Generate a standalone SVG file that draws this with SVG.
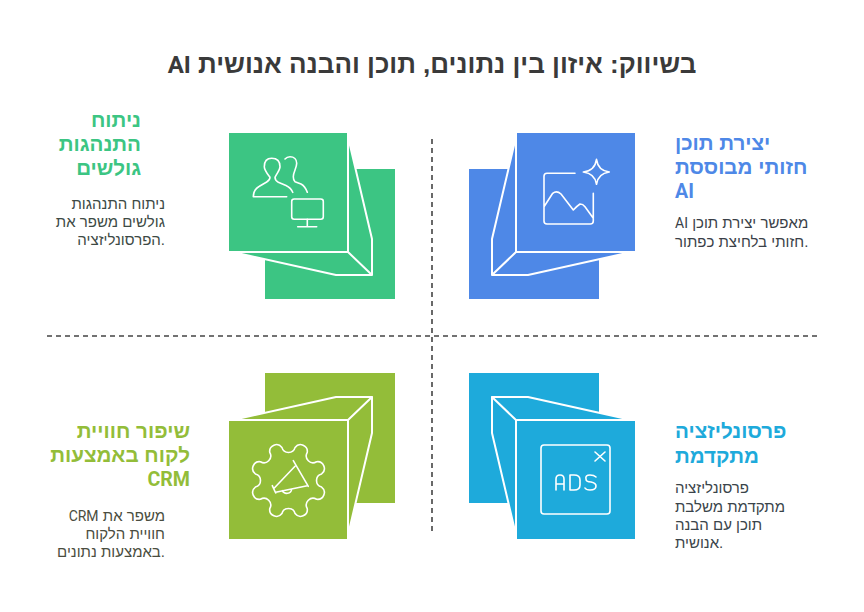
<svg xmlns="http://www.w3.org/2000/svg" width="864" height="612" viewBox="0 0 864 612">
<style>
text{font-family:"Liberation Sans",Roboto,sans-serif;direction:ltr}
.r{font-family:Roboto,sans-serif}
.t{font-size:26px;font-weight:700;fill:#3a3a3a}
.t .r{font-size:24px}
.h{font-size:20.6px;font-weight:700}
.h .r{font-size:19.6px}
.b{font-size:15px}
.b .r{font-size:14px}
.e{text-anchor:end}
.l{fill:none;stroke:#fff;stroke-width:2;stroke-linecap:round;stroke-linejoin:round}
.i{fill:none;stroke:#fff;stroke-width:1.6;stroke-linecap:round;stroke-linejoin:round}
.d{fill:none;stroke:#444;stroke-width:1.6;stroke-dasharray:5 4}
</style>
<rect width="864" height="612" fill="#fff"/>
<text id="title" class="t" x="432" y="73" text-anchor="middle"><tspan class="r">AI</tspan> בשיווק: איזון בין נתונים, תוכן והבנה אנושית</text>
<g id="connectors">
<path class="d" d="M432 139V535"/>
<path class="d" d="M47 336H817"/>
</g>
<g id="node-browsing">
<rect x="265" y="169" width="130" height="130" fill="#3CC583"/>
<path d="M349 141L372 239V275L336 275L237 253H229V133H347Z" fill="#3CC583"/>
<path class="l" d="M349 141L372 239V275H336L237 253M229 252H348V133M348 252L372 275"/>
<path class="i" d="M286.7 196.7H253.3Q253.5 189.5 259 186.5L266.7 182Q270 180 270 177.3C266 172 264.3 170 264.3 166.7C264.3 161 267 158.3 271.7 158.3C277 158.3 280 161.5 280 166.7C280 170 277 173 275 177.3Q275 180.5 278.3 182.3L286 185.5Q291 188 292.7 192.3M285 159Q287 156.7 290 156.7C294 156.7 296.7 159.5 296.7 163.3C296.7 168 293.3 172 293.3 176.7Q293.3 180 295 181.7L301 184Q305 186 307.3 192.3"/>
<rect class="i" x="291.7" y="199" width="31.6" height="20.3" rx="2.5"/>
<path class="i" d="M307.3 219.3V226.7M297.7 226.7H316.7"/>
<text class="h e" fill="#3CC583"><tspan x="141" y="127">ניתוח</tspan><tspan x="141" y="151">התנהגות</tspan><tspan x="141" y="175">גולשים</tspan></text>
<text class="b e" fill="#3d4a45"><tspan x="165" y="209">ניתוח התנהגות</tspan><tspan x="165" y="227">גולשים משפר את</tspan><tspan x="165" y="245">הפרסונליזציה.</tspan></text>
</g>
<g id="node-ai">
<rect x="469" y="169" width="130" height="130" fill="#4E88E7"/>
<path d="M515 141L492 239V275L528 275L627 253H635V133H517Z" fill="#4E88E7"/>
<path class="l" d="M515 141L492 239V275H528L627 253M635 252H516V133M516 252L492 275"/>
<path class="i" d="M575 173.3H547Q544 173.3 544 176.3V221Q544 224 547 224H590.3Q593.3 224 593.3 221V193.3M544 206.7L552.7 193.3Q556.7 190 561 194L573.3 210Q577 206 580 204Q583 204 585 206.7L593.3 218.3"/>
<path class="i" d="M596.5 159.3Q598 170.5 609.3 172Q598 173.5 596.5 184.3Q595 173.5 583.3 172Q595 170.5 596.5 159.3Z"/>
<text class="h" fill="#4E88E7"><tspan x="675" y="150">יצירת תוכן</tspan><tspan x="675" y="174">חזותי מבוססת</tspan><tspan x="675" y="198" class="r">AI</tspan></text>
<text class="b" fill="#3a3f48"><tspan x="675" y="228"><tspan class="r">AI</tspan> מאפשר יצירת תוכן</tspan><tspan x="675" y="247">חזותי בלחיצת כפתור.</tspan></text>
</g>
<g id="node-crm">
<rect x="265" y="373" width="130" height="130" fill="#93BD39"/>
<path d="M349 531L372 433V397L336 397L237 419H229V539H347Z" fill="#93BD39"/>
<path class="l" d="M349 531L372 433V397H336L237 419M229 420H348V539M348 420L372 397"/>
<path class="i" transform="translate(288.5 480.5)" d="M6.58 -33.1A6.8 6.8 0 0 1 18.75 -28.06A6.8 6.8 0 0 0 28.06 -18.75A6.8 6.8 0 0 1 33.1 -6.58A6.8 6.8 0 0 0 33.1 6.58A6.8 6.8 0 0 1 28.06 18.75A6.8 6.8 0 0 0 18.75 28.06A6.8 6.8 0 0 1 6.58 33.1A6.8 6.8 0 0 0 -6.58 33.1A6.8 6.8 0 0 1 -18.75 28.06A6.8 6.8 0 0 0 -28.06 18.75A6.8 6.8 0 0 1 -33.1 6.58A6.8 6.8 0 0 0 -33.1 -6.58A6.8 6.8 0 0 1 -28.06 -18.75A6.8 6.8 0 0 0 -18.75 -28.06A6.8 6.8 0 0 1 -6.58 -33.1A6.8 6.8 0 0 0 6.58 -33.1Z"/>
<path class="i" d="M293.3 460.7L308.3 486.3M272.3 485.7L275.7 493M274.3 488L295 466.3M275.7 492.3L307.3 485.7M282.3 490.7A5 5 0 0 0 291.7 489"/>
<text class="h e" fill="#93BD39"><tspan x="190" y="438">שיפור חוויית</tspan><tspan x="190" y="462">לקוח באמצעות</tspan><tspan x="190" y="486" class="r">CRM</tspan></text>
<text class="b e" fill="#4a4d40"><tspan x="165" y="521"><tspan class="r">CRM</tspan> משפר את</tspan><tspan x="165" y="539">חוויית הלקוח</tspan><tspan x="165" y="557">באמצעות נתונים.</tspan></text>
</g>
<g id="node-personal">
<rect x="469" y="373" width="130" height="130" fill="#1EAADB"/>
<path d="M515 531L492 433V397L528 397L627 419H635V539H517Z" fill="#1EAADB"/>
<path class="l" d="M515 531L492 433V397H528L627 419M635 420H516V539M516 420L492 397"/>
<rect class="i" x="541" y="445" width="69" height="69" rx="3"/>
<path class="i" d="M595 452L605 461M605 452L595 461"/>
<path class="i" d="M556 490V479Q556 475 560 475Q564 475 564 479V490M556 484H564M570 475V490H574Q580 490 580 485V480Q580 475 574 475ZM596 477Q594 475 590 475Q585 475 586 479Q586 482 591 482Q596 483 596 486Q596 490 590 490Q586 490 585 488"/>
<text class="h" fill="#1EAADB"><tspan x="675" y="438">פרסונליזציה</tspan><tspan x="675" y="463">מתקדמת</tspan></text>
<text class="b" fill="#3a444a"><tspan x="675" y="493">פרסונליזציה</tspan><tspan x="675" y="512">מתקדמת משלבת</tspan><tspan x="675" y="530">תוכן עם הבנה</tspan><tspan x="675" y="548">אנושית.</tspan></text>
</g>
</svg>
